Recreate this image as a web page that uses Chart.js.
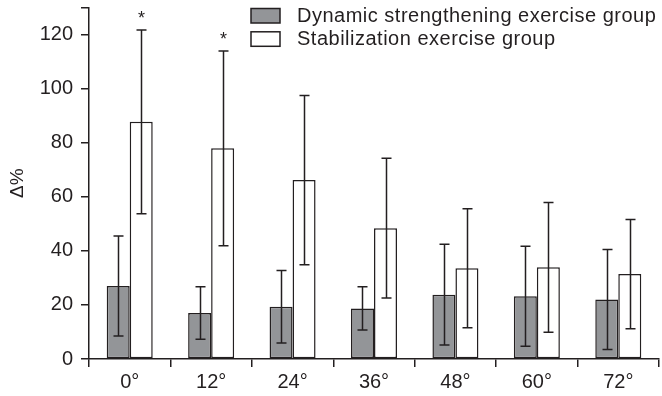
<!DOCTYPE html>
<html>
<head>
<meta charset="utf-8">
<script src="https://cdn.jsdelivr.net/npm/chart.js@4.4.1/dist/chart.umd.min.js"></script>
<style>
  html, body { margin: 0; padding: 0; background: #ffffff; }
  #wrap { width: 662px; height: 396px; }
</style>
</head>
<body>
<div id="wrap"><canvas id="c" width="662" height="396"></canvas></div>
<script>
const categories = ['0°', '12°', '24°', '36°', '48°', '60°', '72°'];
const dynamicMeans = [27.0, 17.0, 19.3, 18.7, 23.8, 23.2, 22.0];
const dynamicSD    = [18.5, 9.7, 13.4, 8.0, 18.6, 18.5, 18.5];
const stabilMeans  = [87.7, 77.9, 66.2, 48.4, 33.6, 33.9, 31.4];
const stabilSD     = [34.0, 36.0, 31.3, 25.8, 22.0, 24.0, 20.2];
const stabilMarks  = ['*', '*', '', '', '', '', ''];
const yTicks = [0, 20, 40, 60, 80, 100, 120];
const yMax = 130;

const INK = '#231f20';
const FONT = '"Liberation Sans", Arial, sans-serif';

const errorBars = {
  id: 'errorBars',
  afterDatasetsDraw(chart) {
    const ctx = chart.ctx;
    const y = chart.scales.y;
    const sets = [[dynamicMeans, dynamicSD, null], [stabilMeans, stabilSD, stabilMarks]];
    ctx.save();
    ctx.strokeStyle = INK;
    ctx.lineWidth = 1.5;
    sets.forEach((s, di) => {
      const meta = chart.getDatasetMeta(di);
      meta.data.forEach((el, i) => {
        const top = y.getPixelForValue(s[0][i] + s[1][i]);
        const bot = y.getPixelForValue(s[0][i] - s[1][i]);
        const x = Math.round(el.x) + 0.5;
        ctx.beginPath();
        ctx.moveTo(x, top); ctx.lineTo(x, bot);
        ctx.moveTo(x - 5, top); ctx.lineTo(x + 5, top);
        ctx.moveTo(x - 5, bot); ctx.lineTo(x + 5, bot);
        ctx.stroke();
        if (s[2] && s[2][i]) {
          ctx.fillStyle = INK;
          ctx.font = '18px ' + FONT;
          ctx.textAlign = 'center';
          ctx.textBaseline = 'middle';
          ctx.fillText(s[2][i], x, top - 11);
        }
      });
    });
    ctx.restore();
  }
};

const customLegend = {
  id: 'customLegend',
  afterDraw(chart) {
    const ctx = chart.ctx;
    ctx.save();
    chart.data.datasets.forEach((ds, i) => {
      const by = 8.5 + i * 23.3;
      ctx.fillStyle = ds.backgroundColor;
      ctx.fillRect(251, by, 29, 14.5);
      ctx.strokeStyle = INK;
      ctx.lineWidth = 1.5;
      ctx.strokeRect(251, by, 29, 14.5);
      ctx.fillStyle = INK;
      ctx.font = '20px ' + FONT;
      ctx.letterSpacing = '0.5px';
      ctx.textAlign = 'left';
      ctx.textBaseline = 'middle';
      ctx.fillText(ds.label, 297, by + 7.5);
      ctx.letterSpacing = '0px';
    });
    ctx.restore();
  }
};

new Chart(document.getElementById('c'), {
  type: 'bar',
  data: {
    labels: categories,
    datasets: [
      { label: 'Dynamic strengthening exercise group', data: dynamicMeans,
        backgroundColor: '#939598', borderColor: INK, borderWidth: 1.5, borderSkipped: false,
        categoryPercentage: 0.565, barPercentage: 1.0 },
      { label: 'Stabilization exercise group', data: stabilMeans,
        backgroundColor: '#ffffff', borderColor: INK, borderWidth: 1.5, borderSkipped: false,
        categoryPercentage: 0.565, barPercentage: 1.0 }
    ]
  },
  options: {
    responsive: false,
    animation: false,
    devicePixelRatio: 1,
    layout: { padding: { top: 7.5, right: 3, left: 0, bottom: 0 } },
    plugins: { legend: { display: false }, tooltip: { enabled: false } },
    scales: {
      x: {
        grid: { offset: true, drawOnChartArea: false, drawTicks: true, tickLength: 8, color: INK, lineWidth: 1.5 },
        border: { color: INK, width: 1.5 },
        ticks: { color: INK, font: { family: FONT, size: 20 }, padding: 3, maxRotation: 0 },
        afterFit(s) { s.height = 37; }
      },
      y: {
        min: 0, max: yMax,
        afterBuildTicks(s) { s.ticks = yTicks.concat([yMax]).map(v => ({ value: v })); },
        grid: { drawOnChartArea: false, drawTicks: true, tickLength: 8, color: INK, lineWidth: 1.5 },
        border: { color: INK, width: 1.5 },
        ticks: { color: INK, font: { family: FONT, size: 20 }, padding: 8,
                 callback: (v) => yTicks.includes(v) ? String(v) : '' },
        title: { display: true, text: 'Δ%', color: INK, font: { family: FONT, size: 19 }, padding: { top: 6, bottom: 0 } },
        afterFit(s) { s.width = 89; s.paddingTop = 0; }
      }
    }
  },
  plugins: [errorBars, customLegend]
});
</script>
</body>
</html>
